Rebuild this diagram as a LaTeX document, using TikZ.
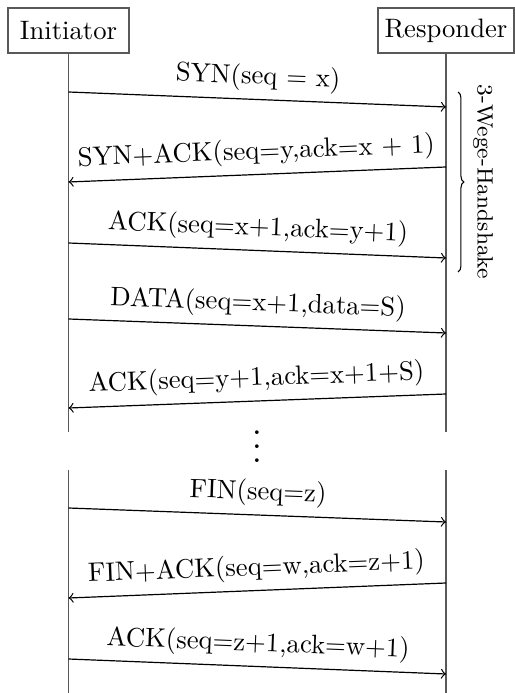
\documentclass[tikz,border=0pt]{standalone}
\usepackage{fontspec}
\usetikzlibrary{decorations.pathreplacing}
\begin{document}
\begin{tikzpicture}[x=0.375pt,y=-0.375pt,
  actor/.style={draw=black!65, line width=0.5pt, minimum height=16.9pt, inner sep=2pt},
  life/.style={draw=black!65, line width=0.6pt},
  msg/.style={->, line width=0.45pt},
  lbl/.style={midway, above, sloped, inner sep=3pt}]
\useasboundingbox (0,0) rectangle (515,693);
\node[actor, minimum width=45.4pt] (init) at (68.5,30.5) {Initiator};
\node[actor, minimum width=51pt] (resp) at (446,30.5) {Responder};
% lifelines
\coordinate (ib1) at (68.5,432); \coordinate (ib2) at (68.5,470); \coordinate (ib3) at (68.5,693);
\coordinate (rb1) at (446,432);  \coordinate (rb2) at (446,470);  \coordinate (rb3) at (446,693);
\draw[life] (init.south) -- (ib1);
\draw[life] (ib2) -- (ib3);
\draw[life] (resp.south) -- (rb1);
\draw[life] (rb2) -- (rb3);
% messages
\coordinate (a1s) at (68.5,92);  \coordinate (a1e) at (446,107);
\coordinate (a2s) at (446,167);  \coordinate (a2e) at (68.5,182);
\coordinate (a3s) at (68.5,243); \coordinate (a3e) at (446,258);
\coordinate (a4s) at (68.5,319); \coordinate (a4e) at (446,333);
\coordinate (a5s) at (446,394);  \coordinate (a5e) at (68.5,408);
\coordinate (a6s) at (68.5,508); \coordinate (a6e) at (446,522);
\coordinate (a7s) at (446,583);  \coordinate (a7e) at (68.5,598);
\coordinate (a8s) at (68.5,659); \coordinate (a8e) at (446,674);
\draw[msg] (a1s) -- node[lbl]{SYN(seq = x)} (a1e);
\draw[msg] (a2s) -- node[lbl]{SYN+ACK(seq=y,ack=x + 1)} (a2e);
\draw[msg] (a3s) -- node[lbl]{ACK(seq=x+1,ack=y+1)} (a3e);
\draw[msg] (a4s) -- node[lbl]{DATA(seq=x+1,data=S)} (a4e);
\draw[msg] (a5s) -- node[lbl]{ACK(seq=y+1,ack=x+1+S)} (a5e);
\draw[msg] (a6s) -- node[lbl]{FIN(seq=z)} (a6e);
\draw[msg] (a7s) -- node[lbl]{FIN+ACK(seq=w,ack=z+1)} (a7e);
\draw[msg] (a8s) -- node[lbl]{ACK(seq=z+1,ack=w+1)} (a8e);
% dots
\node[inner sep=0pt, scale=1.3, anchor=base] (dots) at (257,462) {$\vdots$};
% brace
\coordinate (bt) at (458,92); \coordinate (bb) at (458,272);
\draw[decorate, decoration={brace, amplitude=2.2pt}, line width=0.4pt] (bt) -- (bb);
\node[rotate=-90, inner sep=0pt, font=\fontsize{8.3pt}{10pt}\selectfont] (hs) at (483,182) {3-Wege-Handshake};
\end{tikzpicture}
\end{document}
